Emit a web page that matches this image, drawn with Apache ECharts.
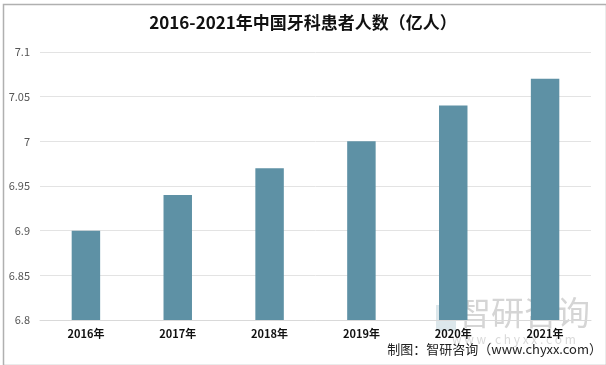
<!DOCTYPE html>
<html><head><meta charset="utf-8">
<script src="https://cdn.jsdelivr.net/npm/echarts@6/dist/echarts.min.js"></script>
<style>html,body{margin:0;padding:0;background:#fff}#c{width:606px;height:365px}</style>
</head><body><div id="c"></div>
<script>
const categories = ['2016年','2017年','2018年','2019年','2020年','2021年'];
const values = [6.9, 6.94, 6.97, 7.0, 7.04, 7.07];
const yTicks = [6.8, 6.85, 6.9, 6.95, 7, 7.05, 7.1];
const titleText = '2016-2021年中国牙科患者人数（亿人）';
const sourceText = '制图：智研咨询（www.chyxx.com）';

const chart = echarts.init(document.getElementById('c'), null, {renderer:'canvas'});
chart.setOption({
  animation:false,
  title:{text:titleText,left:'center',top:9,textStyle:{fontFamily:'Noto Sans CJK SC',fontWeight:'bold',fontSize:17,color:'#111'}},
  grid:{left:40,right:15,top:52,bottom:45},
  xAxis:{type:'category',data:categories,axisTick:{show:false},
    axisLine:{lineStyle:{color:'#d9d9d9'}},
    axisLabel:{fontFamily:'Noto Sans CJK SC',fontWeight:'bold',fontSize:11,color:'#111',margin:8}},
  yAxis:{type:'value',min:6.8,max:7.1,interval:0.05,
    axisLabel:{fontFamily:'Noto Sans CJK SC',fontSize:11,color:'#555',margin:10,
      formatter:v=>{const t=yTicks.find(x=>Math.abs(x-v)<1e-6);return t===undefined?'':String(t);}},
    splitLine:{lineStyle:{color:'#e3e3e3'}},axisLine:{show:false},axisTick:{show:false}},
  series:[{type:'bar',data:values,barWidth:'31%',itemStyle:{color:'#5E91A5'}}],
  graphic:[
    {type:'rect',left:1,top:2,shape:{width:603,height:361},style:{fill:'none',stroke:'#b0b0b0',lineWidth:1.5},silent:true},
    {type:'rect',left:436,top:305,shape:{width:20,height:26},style:{fill:'rgba(94,145,165,0.22)'}},
    {type:'text',left:458,top:296,style:{text:'智研咨询',font:'33px "Noto Sans CJK SC"',fill:'rgba(150,150,150,0.4)'}},
    {type:'text',left:452,top:333,style:{text:'w w w . c h y x x . c o m',font:'12px "Noto Sans CJK SC"',fill:'rgba(160,160,160,0.4)'}},
    {type:'text',right:4,top:343,style:{text:sourceText,font:'13px "Noto Sans CJK SC"',fill:'#222'}}
  ]
});
</script></body></html>
